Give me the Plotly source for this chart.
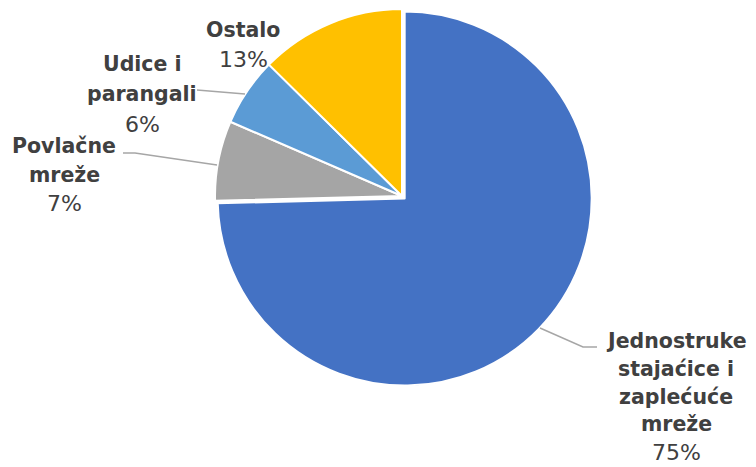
import plotly.graph_objects as go

categories = ["Jednostruke stajaćice i zaplećuće mreže", "Povlačne mreže", "Udice i parangali", "Ostalo"]
label_lines = [["Jednostruke", "stajaćice i", "zaplećuće", "mreže"], ["Povlačne", "mreže"], ["Udice i", "parangali"], ["Ostalo"]]
values = [74.6, 6.9, 5.9, 12.6]
colors = ["#4472C4", "#A5A5A5", "#5B9BD5", "#FFC000"]

W, H = 756, 467
cx, cy, r = 402, 196, 187
pull = 0.02
R = r * (1 + pull)

fig = go.Figure(go.Pie(
    labels=categories, values=values, sort=False, direction="clockwise", rotation=0,
    marker=dict(colors=colors, line=dict(color="white", width=2)),
    pull=[pull, 0, 0, 0], textinfo="none", hoverinfo="label+percent", showlegend=False,
    domain=dict(x=[(cx - R) / W, (cx + R) / W], y=[1 - (cy + R) / H, 1 - (cy - R) / H]),
))

total = sum(values)
# label block: x centre, y of first line, line spacing
blocks = [(676, 341, 27.8), (64, 146, 29), (142, 64, 30), (243, 30, 30)]
txtcol = "#404040"
for lines, v, (px, py, dy) in zip(label_lines, values, blocks):
    pct = f"{round(v / total * 100)}%"
    items = [(f"<b>{l}</b>", 20.5) for l in lines] + [(pct, 22)]
    for i, (t, fs) in enumerate(items):
        fig.add_annotation(x=px / W, y=1 - (py + i * dy) / H, xref="paper", yref="paper", text=t,
                           showarrow=False, xanchor="center", yanchor="middle", align="center",
                           font=dict(family="DejaVu Sans", size=fs, color=txtcol))

leaders = [
    [(540, 328), (583, 347), (597, 347)],
    [(123, 153), (135, 153), (217, 165)],
    [(197, 90), (245, 94)],
]
for pts in leaders:
    path = "M " + " L ".join(f"{x / W},{1 - y / H}" for x, y in pts)
    fig.add_shape(type="path", path=path, xref="paper", yref="paper",
                  line=dict(color="#A6A6A6", width=1.5))

fig.update_layout(width=W, height=H, margin=dict(l=0, r=0, t=0, b=0),
                  paper_bgcolor="white", plot_bgcolor="white")
fig.write_html("out.html", config={"displayModeBar": False},
               post_script="document.body.style.margin='0';")
